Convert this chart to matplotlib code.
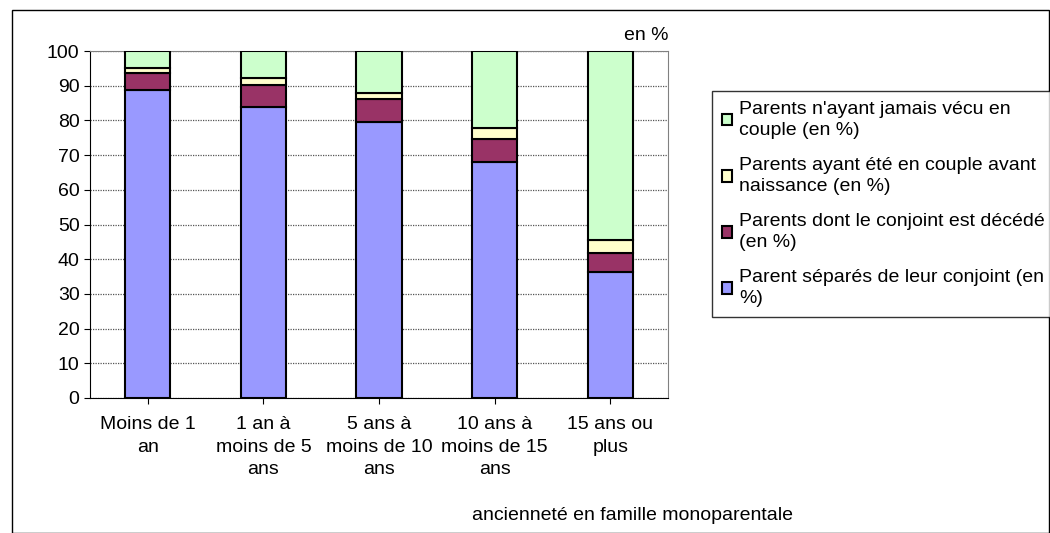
import numpy as np
import matplotlib.pyplot as plt
from matplotlib.patches import Rectangle

# categories and values (en %)
categories = ["Moins de 1\nan", "1 an à\nmoins de 5\nans", "5 ans à\nmoins de 10\nans",
              "10 ans à\nmoins de 15\nans", "15 ans ou\nplus"]
separes = [88.8, 84.0, 79.4, 67.9, 36.4]
decedes = [4.9, 6.1, 6.8, 6.8, 5.3]
avant_naissance = [1.5, 2.2, 1.7, 3.0, 3.8]
jamais_couple = [4.8, 7.7, 12.1, 22.3, 54.5]

labels = ["Parent séparés de leur conjoint (en\n%)",
          "Parents dont le conjoint est décédé\n(en %)",
          "Parents ayant été en couple avant\nnaissance (en %)",
          "Parents n'ayant jamais vécu en\ncouple (en %)"]
couleurs = ["#9999FF", "#993366", "#FFFFCC", "#CCFFCC"]

plt.rcParams['font.family'] = ['Liberation Sans', 'DejaVu Sans']
fs = 14

fig = plt.figure(figsize=(10.5, 5.33), dpi=100)
ax = fig.add_axes([90 / 1050, 1 - 398 / 533, 578 / 1050, 347 / 533])

x = np.arange(len(categories))
series = [separes, decedes, avant_naissance, jamais_couple]
bas = np.zeros(len(categories))
handles = []
for vals, lab, col in zip(series, labels, couleurs):
    b = ax.bar(x, vals, bottom=bas, width=0.39, color=col, edgecolor="black",
               linewidth=1.5, label=lab, zorder=3)
    handles.append(b)
    bas += np.array(vals)

ax.set_xlim(-0.5, len(categories) - 0.5)
ax.set_ylim(0, 100)
ax.set_yticks(range(0, 101, 10))
ax.set_xticks(x)
ax.set_xticklabels(categories, fontsize=fs, linespacing=1.43)
ax.tick_params(axis="y", labelsize=fs, length=4, direction="out")
ax.tick_params(axis="x", length=4, direction="out", pad=9)
ax.grid(axis="y", color="#555555", linestyle=(0, (1, 1)), linewidth=0.9, zorder=0)
for s in ["left", "bottom"]:
    ax.spines[s].set_color("black")
for s in ["top", "right"]:
    ax.spines[s].set_color("#808080")

ax.text(1.0, 1.02, "en %", transform=ax.transAxes, ha="right", va="bottom", fontsize=fs)
fig.text(632 / 1050, 1 - 516 / 533, "ancienneté en famille monoparentale",
         ha="center", va="center", fontsize=fs)

leg = fig.legend(handles[::-1], labels[::-1], loc="upper left",
                 bbox_to_anchor=(712 / 1050, 1 - 91 / 533), fontsize=fs,
                 frameon=True, fancybox=False, edgecolor="black",
                 handlelength=0.55, handleheight=0.55, handletextpad=0.35,
                 labelspacing=0.9, borderpad=0.5, borderaxespad=0)
for t in leg.get_texts():
    t.set_linespacing(1.35)
leg.get_frame().set_linewidth(1.0)

# cadre extérieur
fig.patches.append(Rectangle((12 / 1050, 0), 1 - 12 / 1050 - 0.001, 1 - 10 / 533,
                             transform=fig.transFigure, fill=False,
                             edgecolor="black", linewidth=1.0))

fig.savefig("out.png", dpi=100)
